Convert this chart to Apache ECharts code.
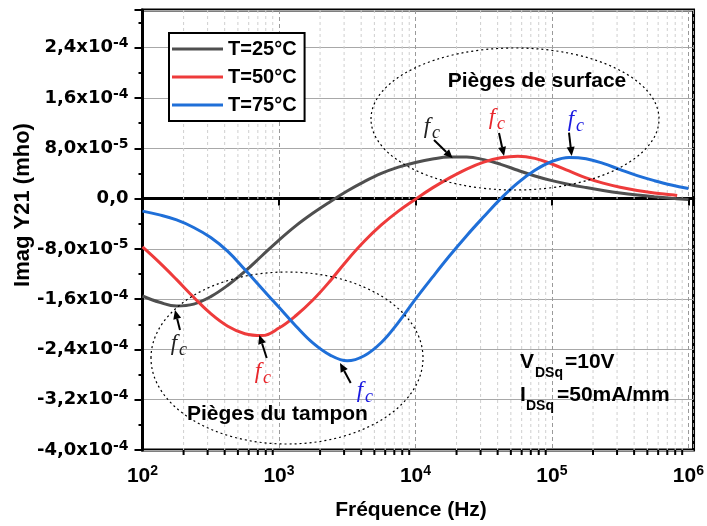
<!DOCTYPE html>
<html>
<head>
<meta charset="utf-8">
<script src="https://cdn.jsdelivr.net/npm/echarts@6/dist/echarts.min.js"></script>
<style>
html, body { margin: 0; padding: 0; background: #fff; }
#chart { width: 707px; height: 526px; }
</style>
</head>
<body>
<div id="chart"></div>
<script>
// frequences (Hz), 8 points par decade, et Imag Y21 (en 1e-5 mho)
var freq = [100, 133.35, 177.83, 237.14, 316.23, 421.70, 562.34, 749.89,
            1000, 1333.5, 1778.3, 2371.4, 3162.3, 4217.0, 5623.4, 7498.9,
            1e4, 13335, 17783, 23714, 31623, 42170, 56234, 74989,
            1e5, 133352, 177828, 237137, 316228, 421697, 562341, 749894, 1e6];
var freqRed = freq.slice(0, 32).concat([8.27e5]);
var im25 = [-15.5, -16.5, -17.1, -16.8, -15.6, -13.8, -11.6, -9.1,
            -6.6, -4.3, -2.3, -0.5, 1.2, 2.7, 4.0, 5.0,
            5.75, 6.3, 6.6, 6.6, 6.2, 5.45, 4.5, 3.6,
            2.85, 2.25, 1.75, 1.3, 0.9, 0.57, 0.29, 0.05, -0.16];
var im50 = [-7.7, -10.2, -12.9, -15.7, -18.3, -20.3, -21.5, -21.8,
            -20.6, -18.6, -16.1, -13.1, -9.8, -6.8, -4.2, -2.0,
            -0.1, 1.7, 3.3, 4.7, 5.8, 6.5, 6.75, 6.4,
            5.5, 4.4, 3.3, 2.45, 1.8, 1.3, 0.9, 0.6, 0.48];
var im75 = [-2.0, -2.6, -3.4, -4.6, -6.2, -8.4, -11.3, -14.3,
            -17.3, -20.3, -23.0, -24.9, -25.8, -25.0, -22.9, -19.7,
            -16.0, -12.5, -9.1, -5.9, -2.9, 0.0, 2.5, 4.5,
            5.9, 6.55, 6.35, 5.6, 4.6, 3.65, 2.85, 2.15, 1.6];
var names = ['T=25°C', 'T=50°C', 'T=75°C'];
var colors = ['#4f4f4f', '#ee3b3b', '#1f6fd8'];
var decadeTicks = [100, 1000, 1e4, 1e5, 1e6];
var minorMult = [2, 3, 4, 5, 6, 7, 8, 9];
var yMin = -4e-4, yMax = 3.0e-4, yStep = 0.8e-4;
var unit = 1e-5;

function pairs(xs, ys) {
    return xs.map(function (f, i) { return [f, ys[i] * unit]; });
}

function yLabel(v) {
    var k = v / yStep;
    if (Math.abs(k - Math.round(k)) > 1e-6) return '';
    if (Math.abs(v) < 1e-12) return '{m|0,0}';
    var e = Math.floor(Math.log10(Math.abs(v)) + 1e-9);
    var m = v / Math.pow(10, e);
    return '{m|' + m.toFixed(1).replace('.', ',') + 'x10}{e|' + e + '}';
}

function xLabel(v) {
    var e = Math.log10(v);
    if (Math.abs(e - Math.round(e)) > 1e-6) return '';
    return '{m|10}{e|' + Math.round(e) + '}';
}

var dom = document.getElementById('chart');
var myChart = echarts.init(dom);

var sans = 'Liberation Sans';
var option = {
    animation: false,
    backgroundColor: '#fff',
    grid: {
        left: 142.5, right: 12, top: 10, bottom: 76,
        show: true, borderColor: '#000', borderWidth: 3,
        backgroundColor: 'transparent'
    },
    legend: {
        orient: 'vertical', left: 169, top: 33,
        data: names,
        icon: 'rect',
        itemWidth: 51, itemHeight: 3, itemGap: 8,
        padding: [6, 8, 6, 3],
        borderColor: '#000', borderWidth: 2, backgroundColor: '#fff',
        textStyle: { fontFamily: sans, fontWeight: 'bold', fontSize: 20, color: '#000', lineHeight: 20 }
    },
    xAxis: {
        type: 'log', logBase: 10, min: 100, max: 1.09e6,
        axisLine: { show: true, lineStyle: { color: '#000', width: 3 } },
        axisTick: { show: true, length: 7, lineStyle: { color: '#000', width: 2 } },
        axisLabel: {
            formatter: xLabel, margin: 14,
            rich: {
                m: { fontFamily: sans, fontWeight: 'bold', fontSize: 21, color: '#000', lineHeight: 24 },
                e: { fontFamily: sans, fontWeight: 'bold', fontSize: 14, color: '#000', lineHeight: 14, verticalAlign: 'top' }
            }
        },
        splitLine: { show: true, lineStyle: { color: '#9a9a9a', width: 1, type: [4, 3] } }
    },
    yAxis: {
        type: 'value', min: yMin, max: yMax, interval: yStep,
        axisLine: { show: true, lineStyle: { color: '#000', width: 3 } },
        axisTick: { show: true, length: 8, lineStyle: { color: '#000', width: 2 } },
        minorTick: { show: true, splitNumber: 2, length: 4, lineStyle: { color: '#000', width: 2 } },
        splitLine: { show: true, lineStyle: { color: '#a8a8a8', width: 1 } },
        axisLabel: {
            formatter: yLabel, margin: 14,
            rich: {
                m: { fontFamily: 'DejaVu Sans', fontWeight: 'bold', fontSize: 18, color: '#000', lineHeight: 22 },
                e: { fontFamily: 'DejaVu Sans', fontWeight: 'bold', fontSize: 14, color: '#000', lineHeight: 14, verticalAlign: 'top' }
            }
        }
    },
    series: [
        { name: names[0], type: 'line', smooth: 0.4, symbol: 'none', data: pairs(freq, im25),
          lineStyle: { width: 3, color: colors[0] }, itemStyle: { color: colors[0] }, z: 3 },
        { name: names[1], type: 'line', smooth: 0.4, symbol: 'none', data: pairs(freqRed, im50),
          lineStyle: { width: 3, color: colors[1] }, itemStyle: { color: colors[1] }, z: 3 },
        { name: names[2], type: 'line', smooth: 0.4, symbol: 'none', data: pairs(freq, im75),
          lineStyle: { width: 3, color: colors[2] }, itemStyle: { color: colors[2] }, z: 3 }
    ]
};
myChart.setOption(option);

// grille mineure (2..9 par decade) et petites graduations en bas
var g = [];
var yTop = myChart.convertToPixel({ yAxisIndex: 0 }, yMax);
var yBot = myChart.convertToPixel({ yAxisIndex: 0 }, yMin);
decadeTicks.slice(0, 4).forEach(function (d) {
    minorMult.forEach(function (m) {
        var x = myChart.convertToPixel({ xAxisIndex: 0 }, d * m);
        g.push({ type: 'line', silent: true, z: 1,
                 shape: { x1: x, y1: yTop, x2: x, y2: yBot },
                 style: { stroke: '#cfcfcf', lineWidth: 1, lineDash: [3, 3] } });
        g.push({ type: 'line', silent: true, z: 1,
                 shape: { x1: x, y1: yBot, x2: x, y2: yBot + 5 },
                 style: { stroke: '#000', lineWidth: 2 } });
    });
});

function arrow(x1, y1, x2, y2) {
    var a = Math.atan2(y2 - y1, x2 - x1), L = 9, W = 4;
    var bx = x2 - L * Math.cos(a), by = y2 - L * Math.sin(a);
    var px = -Math.sin(a) * W, py = Math.cos(a) * W;
    g.push({ type: 'line', silent: true, z: 20,
             shape: { x1: x1, y1: y1, x2: bx, y2: by },
             style: { stroke: '#000', lineWidth: 2 } });
    g.push({ type: 'polygon', silent: true, z: 20,
             shape: { points: [[x2, y2], [bx + px, by + py], [bx - px, by - py]] },
             style: { fill: '#000' } });
}

function txt(s, x, y, size, opts) {
    opts = opts || {};
    g.push({ type: 'text', silent: true, z: 20, x: x, y: y, rotation: opts.rot || 0,
             style: { text: s, fill: opts.color || '#000',
                      fontFamily: opts.family || sans, fontWeight: opts.weight || 'bold',
                      fontStyle: opts.style || 'normal', fontSize: size,
                      align: opts.align || 'left', verticalAlign: 'middle' } });
}

function fc(x, y, color) {
    txt('f', x, y, 23, { family: 'Liberation Serif', style: 'italic', weight: 'normal', color: color, align: 'center' });
    txt('c', x + 9, y + 6, 18, { family: 'Liberation Serif', style: 'italic', weight: 'normal', color: color, align: 'center' });
}

// ellipses pointillees
g.push({ type: 'ellipse', silent: true, z: 15, shape: { cx: 515, cy: 119, rx: 144, ry: 71 },
         style: { fill: 'none', stroke: '#000', lineWidth: 1.2, lineDash: [2, 3] } });
g.push({ type: 'ellipse', silent: true, z: 15, shape: { cx: 287, cy: 358, rx: 136, ry: 86 },
         style: { fill: 'none', stroke: '#000', lineWidth: 1.2, lineDash: [2, 3] } });

txt('Pièges de surface', 537, 81, 21, { align: 'center' });
txt('Pièges du tampon', 187, 414, 21);

fc(174, 344, '#222');
fc(258, 372, '#e8262b');
fc(360, 391, '#1a1ae0');
fc(427, 127, '#222');
fc(492, 118, '#e8262b');
fc(571, 120, '#1a1ae0');

arrow(180, 330, 175, 310);
arrow(266.7, 358, 259.3, 335);
arrow(350.7, 383, 340, 363);
arrow(434, 140, 452.7, 158.3);
arrow(499, 133, 504, 156);
arrow(569, 132.7, 571.7, 156);

txt('V', 520, 362, 21);
txt('DSq', 535, 373, 14);
txt('=10V', 565, 362, 21);
txt('I', 520, 395, 21);
txt('DSq', 526, 406, 14);
txt('=50mA/mm', 557, 395, 21);

txt('Imag Y21 (mho)', 23, 205, 22, { align: 'center', rot: Math.PI / 2 });
txt('Fréquence (Hz)', 411, 510, 21, { align: 'center' });

myChart.setOption({ graphic: { elements: g } });
</script>
</body>
</html>
